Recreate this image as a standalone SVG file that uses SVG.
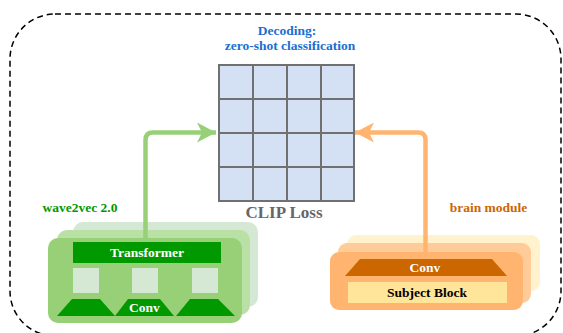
<svg xmlns="http://www.w3.org/2000/svg" width="563" height="333" viewBox="0 0 563 333">
<style>
.t{font-family:"Liberation Serif","Times New Roman",serif;font-weight:bold;text-anchor:middle}
.cell{fill:#d4e1f5;stroke:#707070;stroke-width:2}
.gsq{fill:#d5e8d4}
.gdk{fill:#009900}
.conn{fill:none;stroke-width:4.5;stroke-linejoin:round}
</style>
<defs>
<marker id="ag" viewBox="0 0 20 20" refX="19" refY="10" markerWidth="20" markerHeight="20" markerUnits="userSpaceOnUse" orient="auto"><path d="M0,0 L19,10 L0,20 L5,10 Z" fill="#97d077"/></marker>
<marker id="ao" viewBox="0 0 20 20" refX="19" refY="10" markerWidth="20" markerHeight="20" markerUnits="userSpaceOnUse" orient="auto"><path d="M0,0 L19,10 L0,20 L5,10 Z" fill="#ffb570"/></marker>
</defs>
<rect id="frame" x="10" y="14" width="551" height="322" rx="45" fill="none" stroke="#000" stroke-width="1.5" stroke-dasharray="6 4"/>
<g id="title">
<text class="t" x="287" y="35" font-size="13.5" fill="#1a6fd1">Decoding:</text>
<text class="t" x="290" y="50" font-size="13.5" fill="#1a6fd1">zero-shot classification</text>
</g>
<g id="clip">
<g>
<rect class="cell" x="219" y="65" width="34" height="34"/><rect class="cell" x="253" y="65" width="34" height="34"/><rect class="cell" x="287" y="65" width="34" height="34"/><rect class="cell" x="321" y="65" width="33" height="34"/>
<rect class="cell" x="219" y="99" width="34" height="34"/><rect class="cell" x="253" y="99" width="34" height="34"/><rect class="cell" x="287" y="99" width="34" height="34"/><rect class="cell" x="321" y="99" width="33" height="34"/>
<rect class="cell" x="219" y="133" width="34" height="34"/><rect class="cell" x="253" y="133" width="34" height="34"/><rect class="cell" x="287" y="133" width="34" height="34"/><rect class="cell" x="321" y="133" width="33" height="34"/>
<rect class="cell" x="219" y="167" width="34" height="34"/><rect class="cell" x="253" y="167" width="34" height="34"/><rect class="cell" x="287" y="167" width="34" height="34"/><rect class="cell" x="321" y="167" width="33" height="34"/>
</g>
<text class="t" x="284" y="218" font-size="17" fill="#666666">CLIP Loss</text>
</g>
<g id="wav2vec">
<text class="t" x="80" y="212" font-size="13.5" fill="#009900">wave2vec 2.0</text>
<rect x="73" y="222" width="185" height="85" rx="10" fill="#d5e8d4"/>
<rect x="57" y="230" width="193" height="85" rx="10" fill="#b9e0a5"/>
<rect x="48" y="238" width="194" height="85" rx="10" fill="#97d077"/>
<rect class="gdk" x="73" y="242" width="148" height="21"/>
<text class="t" x="147" y="257" font-size="13.5" fill="#ffffff">Transformer</text>
<rect class="gsq" x="73" y="268" width="26" height="25"/>
<rect class="gsq" x="132" y="268" width="26" height="25"/>
<rect class="gsq" x="192" y="268" width="26" height="25"/>
<polygon class="gdk" points="72,299 100,299 115,316 57,316"/>
<polygon class="gdk" points="128,299 160,299 174,316 115,316"/>
<polygon class="gdk" points="190,299 218,299 235,316 176,316"/>
<text class="t" x="144.5" y="312" font-size="13.5" fill="#ffffff">Conv</text>
</g>
<g id="brain">
<text class="t" x="488.5" y="212" font-size="13.5" fill="#cc6600">brain module</text>
<rect x="347" y="235" width="193" height="56" rx="9" fill="#fff2cc"/>
<rect x="338" y="243" width="193" height="60" rx="9" fill="#ffcc99"/>
<rect x="330" y="252" width="193" height="58" rx="9" fill="#ffb570"/>
<polygon points="360,259 492,259 507,276 345,276" fill="#cc6600"/>
<text class="t" x="425" y="272" font-size="13.5" fill="#ffffff">Conv</text>
<rect x="348" y="282" width="159" height="21" fill="#ffe599"/>
<text class="t" x="427" y="297" font-size="13.5" fill="#000000">Subject Block</text>
</g>
<g id="connectors">
<path class="conn" stroke="#97d077" d="M145.5,238 V140 Q145.5,132.5 153,132.5 H216" marker-end="url(#ag)"/>
<path class="conn" stroke="#ffb570" d="M425.5,252 V140 Q425.5,132.5 418,132.5 H355" marker-end="url(#ao)"/>
</g>
</svg>
